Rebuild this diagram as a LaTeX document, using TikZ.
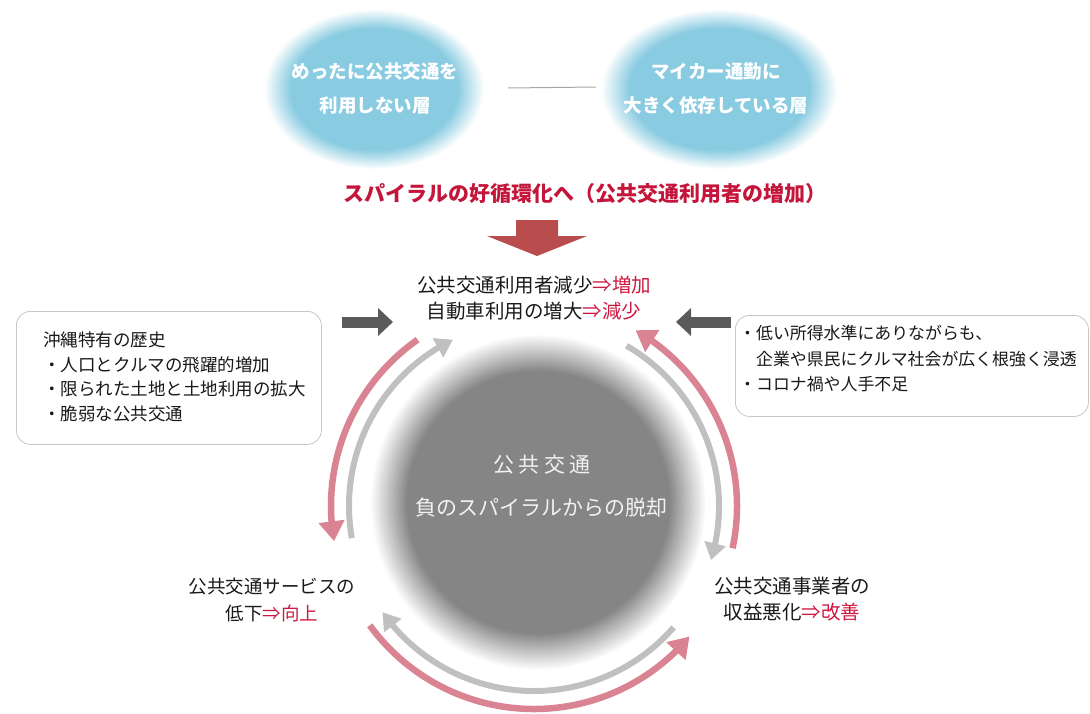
\documentclass[tikz,border=0pt]{standalone}
\usepackage{fontspec}
\setmainfont{Noto Sans CJK JP}
\usetikzlibrary{arrows.meta,bending}
\definecolor{skyb}{RGB}{137,203,225}
\definecolor{cgray}{RGB}{134,133,134}
\definecolor{pinkarc}{RGB}{218,132,147}
\definecolor{grayarc}{RGB}{192,192,192}
\definecolor{darkarr}{RGB}{90,90,90}
\definecolor{redarr}{RGB}{185,76,76}
\definecolor{accent}{RGB}{205,25,65}
\definecolor{titlered}{RGB}{195,22,58}
\definecolor{txt}{RGB}{25,25,25}
\definecolor{boxline}{RGB}{200,200,200}
\definecolor{ctext}{RGB}{242,242,242}
\pgfdeclareradialshading{blueglow}{\pgfpoint{0bp}{0bp}}{color(0bp)=(skyb); color(19bp)=(skyb); color(25bp)=(white); color(50bp)=(white)}
\pgfdeclareradialshading{grayglow}{\pgfpoint{0bp}{0bp}}{color(0bp)=(cgray); color(19.5bp)=(cgray); color(22.5bp)=(cgray!45!white); color(25bp)=(white); color(50bp)=(white)}
\begin{document}
\begin{tikzpicture}[x=1pt,y=-1pt,
  lbl/.style={font=\fontsize{19.5}{26}\selectfont, text=txt, align=center, inner sep=0pt},
  boxtxt/.style={font=\fontsize{17.5}{24.5}\selectfont, text=txt, align=left, inner sep=0pt, anchor=west},
  infobox/.style={draw=boxline, line width=0.8pt, rounded corners=14pt, fill=white, anchor=north west, inner sep=0pt},
  elltxt/.style={font=\bfseries\fontsize{18.5}{34}\selectfont, text=white, align=center, inner sep=0pt},
  ctxt/.style={font=\fontsize{21}{21}\selectfont, text=ctext, inner sep=0pt},
  pinkarrow/.style={draw=pinkarc, line width=6.5pt, -{Triangle[width=25pt,length=20pt]}},
  grayarrow/.style={draw=grayarc, line width=6pt, -{Triangle[width=21pt,length=17pt]}},
  darkarrow/.style={draw=darkarr, line width=11pt, -{Triangle[width=27pt,length=15pt]}},
]
\useasboundingbox (0,0) rectangle (1090,713);

% blue ellipses
\shade[shading=blueglow] (374,89) ellipse [x radius=110, y radius=80];
\shade[shading=blueglow] (719,89) ellipse [x radius=118, y radius=80];
\node[elltxt] (e1) at (375,89) {めったに公共交通を\\利用しない層};
\node[elltxt] (e2) at (716,88) {マイカー通勤に\\大きく依存している層};
\coordinate (g1) at (508,88);
\coordinate (g2) at (596,87);
\draw[draw=gray!70, line width=1pt] (g1) -- (g2);

% title and arrow
\node[font=\bfseries\fontsize{21}{21}\selectfont, text=titlered, inner sep=0pt] (title) at (585,194) {スパイラルの好循環化へ（公共交通利用者の増加）};
\fill[redarr] (516,220) -- (558,220) -- (558,236) -- (587,236) -- (537,256) -- (487,236) -- (516,236) -- cycle;

% top label
\node[lbl] (top) at (534,298) {公共交通利用者減少\textcolor{accent}{⇒増加}\\自動車利用の増大\textcolor{accent}{⇒減少}};

% side boxes
\node[infobox, minimum width=305pt, minimum height=133pt] (lbox) at (16,311) {};
\node[boxtxt] (ltext) at (43,377) {沖縄特有の歴史\\・人口とクルマの飛躍的増加\\・限られた土地と土地利用の拡大\\・脆弱な公共交通};
\node[infobox, minimum width=353pt, minimum height=101pt] (rbox) at (735,315) {};
\node[boxtxt, font=\fontsize{16.9}{25.5}\selectfont] (rtext) at (739,359) {・低い所得水準にありながらも、\\\hphantom{・}企業や県民にクルマ社会が広く根強く浸透\\・コロナ禍や人手不足};

% dark arrows
\coordinate (da1) at (342,322);
\coordinate (da2) at (393,322);
\coordinate (db1) at (731,322);
\coordinate (db2) at (676,322);
\draw[darkarrow] (da1) -- (da2);
\draw[darkarrow] (db1) -- (db2);

% central circle
\shade[shading=grayglow] (538,502) circle [radius=168];
\node[ctxt] (c1) at (542,465) {公\hspace{4.5pt}共\hspace{4.5pt}交\hspace{4.5pt}通};
\node[ctxt] (c2) at (541,508) {負のスパイラルからの脱却};

% cycle arcs
\coordinate (c) at (534,506);
\draw[pinkarrow] (c) ++(-125:203) arc[start angle=-125, end angle=-190, radius=203];
\draw[grayarrow] (c) ++(170:185) arc[start angle=170, end angle=244, radius=185];
\draw[grayarrow] (c) ++(-60:185) arc[start angle=-60, end angle=17, radius=185];
\draw[pinkarrow] (c) ++(12:203) arc[start angle=12, end angle=-60, radius=203];
\draw[grayarrow] (c) ++(41:185) arc[start angle=41, end angle=145, radius=185];
\draw[pinkarrow] (c) ++(144:203) arc[start angle=144, end angle=40, radius=203];

% cycle labels
\node[lbl, font=\fontsize{18.5}{27}\selectfont] (bl) at (272,600) {公共交通サービスの\\低下\textcolor{accent}{⇒向上}};
\node[lbl] (br) at (792,599) {公共交通事業者の\\収益悪化\textcolor{accent}{⇒改善}};
\end{tikzpicture}
\end{document}
